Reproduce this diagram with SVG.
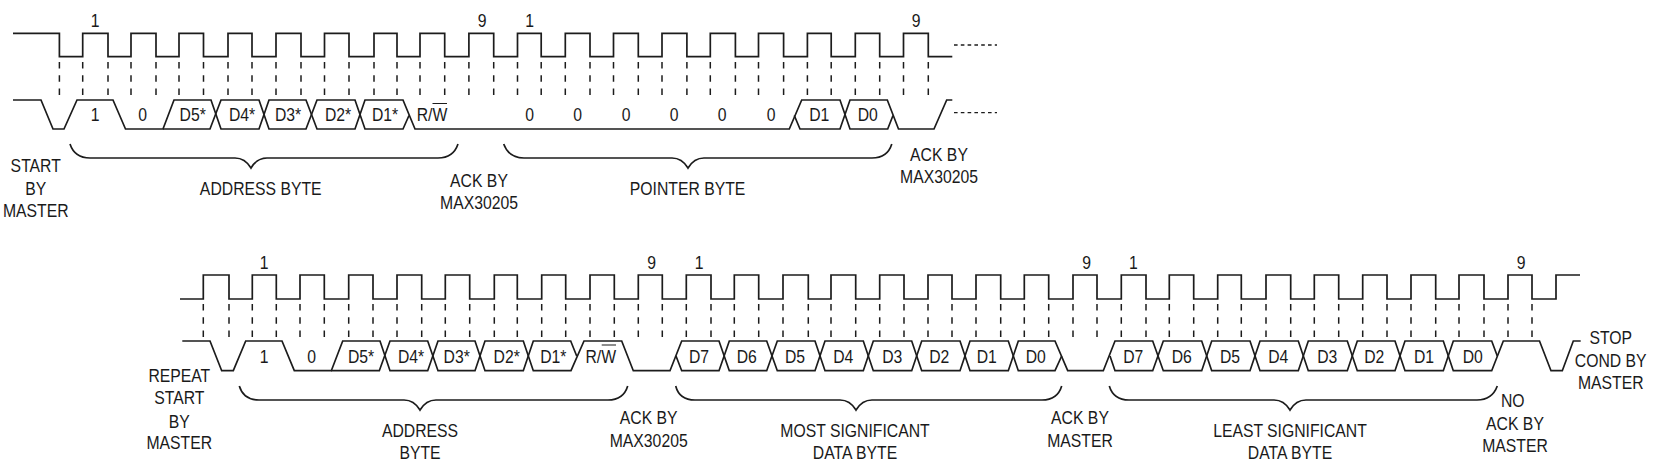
<svg xmlns="http://www.w3.org/2000/svg" width="1658" height="468" viewBox="0 0 1658 468">
<style>
.w{fill:none;stroke:#1c1c1c;stroke-width:1.7}
.d{fill:none;stroke:#1c1c1c;stroke-width:1.5;stroke-dasharray:6.5 6.8}
.h{fill:none;stroke:#1c1c1c;stroke-width:1.3;stroke-dasharray:3.6 3.2}
.o{fill:none;stroke:#1c1c1c;stroke-width:1.2}
text{font-family:"Liberation Sans",Arial,sans-serif;font-size:19px;fill:#1a1a1a;text-anchor:middle}
</style>
<rect width="1658" height="468" fill="#fff"/>
<g id="connectors">
<path id="clock-1" class="w" d="M13 33.3H59.4V56.7H82.7V33.3H108V56.7H131V33.3H156V56.7H179V33.3H203.5V56.7H228V33.3H252V56.7H276V33.3H301V56.7H324.5V33.3H349V56.7H374V33.3H397V56.7H420V33.3H444.7V56.7H468.9V33.3H493.7V56.7H517.5V33.3H541.2V56.7H565.3V33.3H590V56.7H613.5V33.3H638.3V56.7H662V33.3H686.9V56.7H710.3V33.3H735.4V56.7H758.5V33.3H783.6V56.7H807.4V33.3H831.2V56.7H855.3V33.3H879.7V56.7H903.5V33.3H928.3V56.7H952.3"/>
<path class="d" d="M59.4 62V96M82.7 62V96M108 62V96M131 62V96M156 62V96M179 62V96M203.5 62V96M228 62V96M252 62V96M276 62V96M301 62V96M324.5 62V96M349 62V96M374 62V96M397 62V96M420 62V96M444.7 62V96M468.9 62V96M493.7 62V96M517.5 62V96M541.2 62V96M565.3 62V96M590 62V96M613.5 62V96M638.3 62V96M662 62V96M686.9 62V96M710.3 62V96M735.4 62V96M758.5 62V96M783.6 62V96M807.4 62V96M831.2 62V96M855.3 62V96M879.7 62V96M903.5 62V96M928.3 62V96"/>
<path id="data-1a" class="w" d="M13 100H41L53 129H64L77 100H113L125.5 129H163L174 100H211L221 129H259L269 100H306L317 129H355L365 100H403L415 129H789.3L801.7 100H840L850 129H887.7L893 115.5"/>
<path id="data-1b" class="w" d="M163 129H210L221 100H259L269 129H306L317 100H355L365 129H403L409 115.5"/>
<path id="data-1c" class="w" d="M794.3 115.5L800 129H840L850 100H887.3L898.5 129H934L946.7 100H952.3"/>
<path class="h" d="M954 45H997M954 112.7H997"/>
<path id="clock-2" class="w" d="M180 299H203.3V275H229V299H252.3V275H276.3V299H300V275H324.3V299H348.7V275H373V299H397V275H421.7V299H445.3V275H469.7V299H494.3V275H517.3V299H541.7V275H565.7V299H590V275H614.3V299H638.3V275H662.3V299H686.3V275H711V299H734.3V275H758.7V299H783V275H808.3V299H831V275H855.7V299H879.7V275H904V299H928V275H952V299H976V275H1000.7V299H1024.3V275H1048.7V299H1073V275H1097V299H1121.3V275H1146V299H1169.3V275H1193.7V299H1217.7V275H1241.3V299H1266V275H1290.7V299H1314.3V275H1338.7V299H1362.7V275H1387V299H1411V275H1435.7V299H1459V275H1484V299H1508V275H1532V299H1556V275H1580"/>
<path class="d" d="M203.3 304V338M229 304V338M252.3 304V338M276.3 304V338M300 304V338M324.3 304V338M348.7 304V338M373 304V338M397 304V338M421.7 304V338M445.3 304V338M469.7 304V338M494.3 304V338M517.3 304V338M541.7 304V338M565.7 304V338M590 304V338M614.3 304V338M638.3 304V338M662.3 304V338M686.3 304V338M711 304V338M734.3 304V338M758.7 304V338M783 304V338M808.3 304V338M831 304V338M855.7 304V338M879.7 304V338M904 304V338M928 304V338M952 304V338M976 304V338M1000.7 304V338M1024.3 304V338M1048.7 304V338M1073 304V338M1097 304V338M1121.3 304V338M1146 304V338M1169.3 304V338M1193.7 304V338M1217.7 304V338M1241.3 304V338M1266 304V338M1290.7 304V338M1314.3 304V338M1338.7 304V338M1362.7 304V338M1387 304V338M1411 304V338M1435.7 304V338M1459 304V338M1484 304V338M1508 304V338M1532 304V338"/>
<path id="data-2a" class="w" d="M182.3 341H210L221.7 370.7H233.3L245.7 341H282L294.3 370.7H331.3L342.7 341H380L390 370.7H427.7L438 341H475L485 370.7H523.3L533.3 341H570.7L576.7 356"/>
<path id="data-2b" class="w" d="M331.3 370.7H379.3L390 341H427.7L438 370.7H475L485 341H523.3L533.3 370.7H571L584 341H621.7L633.3 370.7H670L681.7 341H719L729.3 370.7H766.7L777.3 341H815L825 370.7H863.3L873.3 341H911.7L921.7 370.7H960L970 341H1008.3L1018.3 370.7H1055L1061.7 356"/>
<path id="data-2c" class="w" d="M676 356L681.7 370.7H719L729.3 341H766.7L777.3 370.7H815L825 341H863.3L873.3 370.7H911.7L921.7 341H960L970 370.7H1008.3L1018.3 341H1055L1067.7 370.7H1103.3L1115 341H1152.7L1163.3 370.7H1201.7L1211.7 341H1250L1260 370.7H1298.3L1308.3 341H1347.3L1357.3 370.7H1395L1405 341H1443.3L1453.3 370.7H1491.7L1503.3 341H1539.5L1551 370.7H1562.3L1573.3 341H1580.7"/>
<path id="data-2d" class="w" d="M1110 356L1115 370.7H1152.7L1163.3 341H1201.7L1211.7 370.7H1250L1260 341H1298.3L1308.3 370.7H1347.3L1357.3 341H1395L1405 370.7H1443.3L1453.3 341H1491.7L1497.3 356"/>
<path class="w" d="M70 144C73 153 80 158 90 158H235C243 158 248 163 251 168C254 163 259 158 267 158H438C448 158 455 153 458 144"/>
<path class="w" d="M503.7 144C507 153 514 158 524 158H672C680 158 685 163 688 168C691 163 696 158 704 158H872C882 158 889 153 891.8 144"/>
<path class="w" d="M239.3 386C242 395 249 400 259 400H404C412 400 417 405 420 410C423 405 428 400 436 400H608C618 400 625 395 627.7 386"/>
<path class="w" d="M675.7 386C678 395 685 400 695 400H840C848 400 853 405 856 410C859 405 864 400 872 400H1042C1052 400 1059 395 1061.7 386"/>
<path class="w" d="M1109.3 386C1112 395 1119 400 1129 400H1274C1282 400 1287 405 1290 410C1293 405 1298 400 1306 400H1477C1487 400 1494 395 1497.3 386"/>
<path class="o" d="M432.5 103.5H447M601.7 345H616"/>
</g>
<g id="pulse-numbers">
<text transform="translate(95 26.7) scale(.83 1)">1</text>
<text transform="translate(482 26.7) scale(.83 1)">9</text>
<text transform="translate(529.5 26.7) scale(.83 1)">1</text>
<text transform="translate(916 26.7) scale(.83 1)">9</text>
<text transform="translate(264 269.3) scale(.83 1)">1</text>
<text transform="translate(651.7 269.3) scale(.83 1)">9</text>
<text transform="translate(699 269.3) scale(.83 1)">1</text>
<text transform="translate(1086.7 269.3) scale(.83 1)">9</text>
<text transform="translate(1133.3 269.3) scale(.83 1)">1</text>
<text transform="translate(1521 269.3) scale(.83 1)">9</text>
</g>
<g id="bits-1">
<text transform="translate(95 120.7) scale(.83 1)">1</text>
<text transform="translate(142.7 120.7) scale(.83 1)">0</text>
<text transform="translate(192.7 120.7) scale(.83 1)">D5*</text>
<text transform="translate(242 120.7) scale(.83 1)">D4*</text>
<text transform="translate(288 120.7) scale(.83 1)">D3*</text>
<text transform="translate(338 120.7) scale(.83 1)">D2*</text>
<text transform="translate(385 120.7) scale(.83 1)">D1*</text>
<text transform="translate(432 120.7) scale(.83 1)">R/W</text>
<text transform="translate(529.5 120.7) scale(.83 1)">0</text>
<text transform="translate(577.7 120.7) scale(.83 1)">0</text>
<text transform="translate(626 120.7) scale(.83 1)">0</text>
<text transform="translate(674 120.7) scale(.83 1)">0</text>
<text transform="translate(722 120.7) scale(.83 1)">0</text>
<text transform="translate(771 120.7) scale(.83 1)">0</text>
<text transform="translate(819.3 120.7) scale(.83 1)">D1</text>
<text transform="translate(867.7 120.7) scale(.83 1)">D0</text>
</g>
<g id="bits-2">
<text transform="translate(264 362.7) scale(.83 1)">1</text>
<text transform="translate(311.7 362.7) scale(.83 1)">0</text>
<text transform="translate(361 362.7) scale(.83 1)">D5*</text>
<text transform="translate(411 362.7) scale(.83 1)">D4*</text>
<text transform="translate(456.7 362.7) scale(.83 1)">D3*</text>
<text transform="translate(506.7 362.7) scale(.83 1)">D2*</text>
<text transform="translate(553.3 362.7) scale(.83 1)">D1*</text>
<text transform="translate(600.7 362.7) scale(.83 1)">R/W</text>
<text transform="translate(699 362.7) scale(.83 1)">D7</text>
<text transform="translate(746.7 362.7) scale(.83 1)">D6</text>
<text transform="translate(795 362.7) scale(.83 1)">D5</text>
<text transform="translate(843.3 362.7) scale(.83 1)">D4</text>
<text transform="translate(892.3 362.7) scale(.83 1)">D3</text>
<text transform="translate(939.3 362.7) scale(.83 1)">D2</text>
<text transform="translate(986.7 362.7) scale(.83 1)">D1</text>
<text transform="translate(1035.7 362.7) scale(.83 1)">D0</text>
<text transform="translate(1133.3 362.7) scale(.83 1)">D7</text>
<text transform="translate(1181.7 362.7) scale(.83 1)">D6</text>
<text transform="translate(1230 362.7) scale(.83 1)">D5</text>
<text transform="translate(1278.3 362.7) scale(.83 1)">D4</text>
<text transform="translate(1327.3 362.7) scale(.83 1)">D3</text>
<text transform="translate(1374.3 362.7) scale(.83 1)">D2</text>
<text transform="translate(1424 362.7) scale(.83 1)">D1</text>
<text transform="translate(1472.7 362.7) scale(.83 1)">D0</text>
</g>
<g id="labels-1">
<text transform="translate(35.7 171.7) scale(.83 1)">START</text>
<text transform="translate(35.7 194.5) scale(.83 1)">BY</text>
<text transform="translate(35.7 217.3) scale(.83 1)">MASTER</text>
<text transform="translate(260.7 195) scale(.83 1)">ADDRESS BYTE</text>
<text transform="translate(479 186.7) scale(.83 1)">ACK BY</text>
<text transform="translate(479 208.5) scale(.83 1)">MAX30205</text>
<text transform="translate(687.6 195) scale(.83 1)">POINTER BYTE</text>
<text transform="translate(939 160.7) scale(.83 1)">ACK BY</text>
<text transform="translate(939 183.3) scale(.83 1)">MAX30205</text>
</g>
<g id="labels-2">
<text transform="translate(179.3 381.7) scale(.83 1)">REPEAT</text>
<text transform="translate(179.3 404.3) scale(.83 1)">START</text>
<text transform="translate(179.3 427.7) scale(.83 1)">BY</text>
<text transform="translate(179.3 449.3) scale(.83 1)">MASTER</text>
<text transform="translate(420 436.7) scale(.83 1)">ADDRESS</text>
<text transform="translate(420 459) scale(.83 1)">BYTE</text>
<text transform="translate(648.7 424) scale(.83 1)">ACK BY</text>
<text transform="translate(648.7 446.7) scale(.83 1)">MAX30205</text>
<text transform="translate(855 436.7) scale(.83 1)">MOST SIGNIFICANT</text>
<text transform="translate(855 459) scale(.83 1)">DATA BYTE</text>
<text transform="translate(1080 424) scale(.83 1)">ACK BY</text>
<text transform="translate(1080 446.7) scale(.83 1)">MASTER</text>
<text transform="translate(1290 436.7) scale(.83 1)">LEAST SIGNIFICANT</text>
<text transform="translate(1290 459) scale(.83 1)">DATA BYTE</text>
<text transform="translate(1512.7 407.3) scale(.83 1)">NO</text>
<text transform="translate(1515 430) scale(.83 1)">ACK BY</text>
<text transform="translate(1515 452.3) scale(.83 1)">MASTER</text>
<text transform="translate(1610.7 344.3) scale(.83 1)">STOP</text>
<text transform="translate(1610.7 366.7) scale(.83 1)">COND BY</text>
<text transform="translate(1610.7 389.3) scale(.83 1)">MASTER</text>
</g>
</svg>
